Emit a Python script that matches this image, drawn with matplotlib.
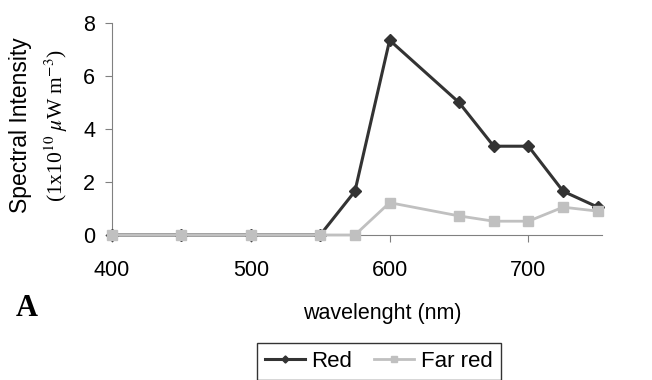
import matplotlib.pyplot as plt

wavelength = [400, 450, 500, 550, 575, 600, 650, 675, 700, 725, 750]
red = [0, 0, 0, 0, 1.65, 7.35, 5.0, 3.35, 3.35, 1.65, 1.05]
far_red = [0, 0, 0, 0, 0, 1.22, 0.72, 0.52, 0.52, 1.05, 0.9]
x_ticks = [400, 500, 600, 700]
y_ticks = [0, 2, 4, 6, 8]

plt.rcParams['font.family'] = ['Liberation Sans', 'DejaVu Sans']
plt.rcParams['mathtext.fontset'] = 'stix'

fig = plt.figure(figsize=(6.52, 3.8), dpi=100)
ax = fig.add_axes([0.1718, 0.3816, 0.7515, 0.5579])

ax.plot(wavelength, red, color='#333333', lw=2.2, marker='D', ms=6,
        label='Red', clip_on=False, zorder=3)
ax.plot(wavelength, far_red, color='#c0c0c0', lw=2.0, marker='s', ms=6.5,
        label='Far red', clip_on=False, zorder=4)

ax.set_xlim(400, 753)
ax.set_ylim(0, 8)
ax.set_xticks(x_ticks)
ax.set_yticks(y_ticks)
ax.tick_params(labelsize=15.5, color='#808080', length=5, direction='out')
ax.tick_params(axis='x', pad=13)
ax.tick_params(axis='y', pad=7)
for s in ['top', 'right']:
    ax.spines[s].set_visible(False)
for s in ['left', 'bottom']:
    ax.spines[s].set_color('#808080')

fig.text(0.032, 0.672, 'Spectral Intensity', rotation=90, ha='center', va='center', fontsize=16.5)
fig.text(0.086, 0.671, r'(1x10$^{10}$ $\mu$W m$^{-3}$)', rotation=90, ha='center',
         va='center', fontsize=15.5, family='Liberation Serif')
fig.text(0.587, 0.176, 'wavelenght (nm)', ha='center', va='center', fontsize=15.5)
fig.text(0.024, 0.187, 'A', fontsize=22, fontweight='bold', family='Liberation Serif',
         ha='left', va='center')

leg = fig.legend(loc='upper left', bbox_to_anchor=(0.394, 0.0974), ncol=2, fontsize=16,
                 frameon=True, fancybox=False, handlelength=1.8, columnspacing=1.0,
                 handletextpad=0.3, borderpad=0.35, borderaxespad=0, markerscale=0.6)
leg.get_frame().set_edgecolor('black')
leg.get_frame().set_linewidth(1.0)

fig.savefig('out.png', dpi=100)
